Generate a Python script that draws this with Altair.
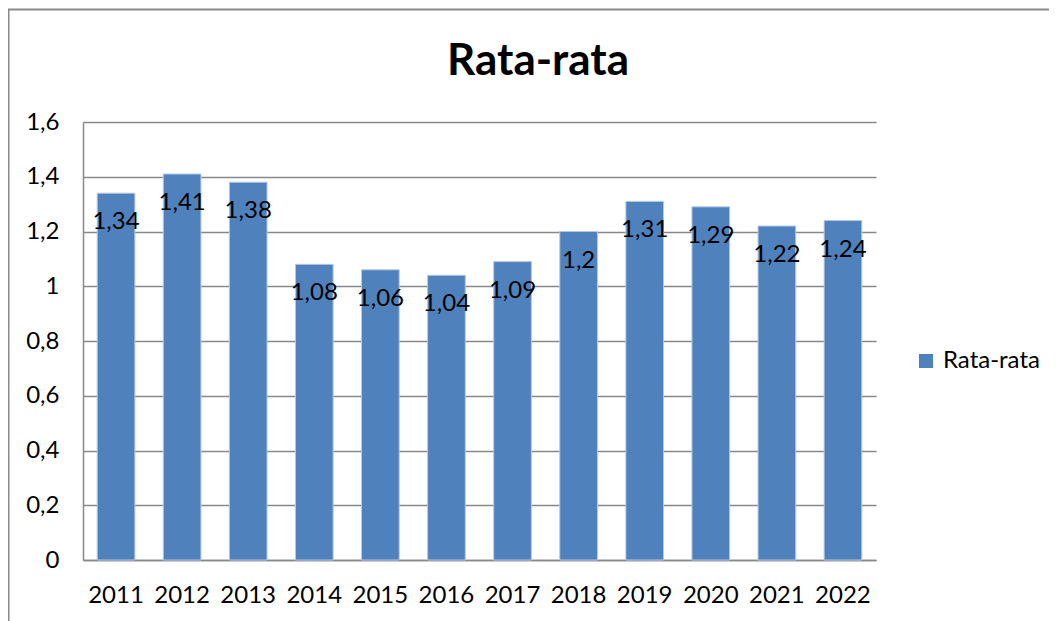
import altair as alt
import pandas as pd

years = ["2011", "2012", "2013", "2014", "2015", "2016", "2017", "2018", "2019", "2020", "2021", "2022"]
values = [1.34, 1.41, 1.38, 1.08, 1.06, 1.04, 1.09, 1.2, 1.31, 1.29, 1.22, 1.24]
series = ["Rata-rata"] * len(years)
title_text = "Rata-rata"

df = pd.DataFrame({"Tahun": years, "Nilai": values, "Seri": series})

FONT = "Lato"
GRID = "#888888"

base = alt.Chart(df).encode(
    x=alt.X("Tahun:N", sort=years,
            scale=alt.Scale(paddingInner=0.43, paddingOuter=0.215),
            axis=alt.Axis(title=None, labelAngle=0, labelFontSize=24, labelPadding=23,
                          ticks=False, domainColor=GRID, domainWidth=1.5, grid=False,
                          labelColor="#000000", labelFont=FONT)),
    y=alt.Y("Nilai:Q", scale=alt.Scale(domain=[0, 1.6]),
            axis=alt.Axis(title=None, values=[0, 0.2, 0.4, 0.6, 0.8, 1.0, 1.2, 1.4, 1.6],
                          labelExpr="replace(format(datum.value, '~g'), '.', ',')",
                          labelFontSize=24, labelPadding=24, ticks=False,
                          domainColor=GRID, domainWidth=1.5,
                          gridColor=GRID, gridWidth=1.5,
                          labelColor="#000000", labelFont=FONT)),
)

bars = base.mark_bar(stroke="#b4c8e3", strokeWidth=1).encode(
    color=alt.Color("Seri:N", scale=alt.Scale(range=["#4F81BD"]),
                    legend=alt.Legend(title=None, orient="none", legendX=831, legendY=227,
                                      symbolType="square", symbolSize=196,
                                      labelFontSize=24, labelFont=FONT, labelColor="#000000",
                                      labelOffset=5, padding=0, symbolStrokeWidth=0)),
)

labels = base.mark_text(baseline="middle", align="center", dy=29, fontSize=24,
                        font=FONT, color="#000000").encode(
    text=alt.Text("label:N")
).transform_calculate(label="replace(format(datum.Nilai, '~g'), '.', ',')")

frame = alt.Chart(alt.Data(values=[{"f": 1}])).mark_rect(
    fill="transparent", stroke="#8a8a8a", strokeWidth=2
).encode(x=alt.value(-74.5), x2=alt.value(1100), y=alt.value(-112.5), y2=alt.value(700))

title = alt.Chart(alt.Data(values=[{"t": title_text}])).mark_text(
    fontSize=44, fontWeight="bold", font=FONT, color="#000000",
    align="center", baseline="alphabetic"
).encode(text="t:N", x=alt.value(455), y=alt.value(-47))

chart = alt.layer(frame, bars, labels, title).properties(
    width=793, height=438,
    autosize=alt.AutoSizeParams(type="none"),
    padding={"left": 75, "top": 114, "right": 173, "bottom": 64},
).configure_view(strokeWidth=0)

chart.save("out.html", embed_options={"renderer": "svg", "actions": False})
